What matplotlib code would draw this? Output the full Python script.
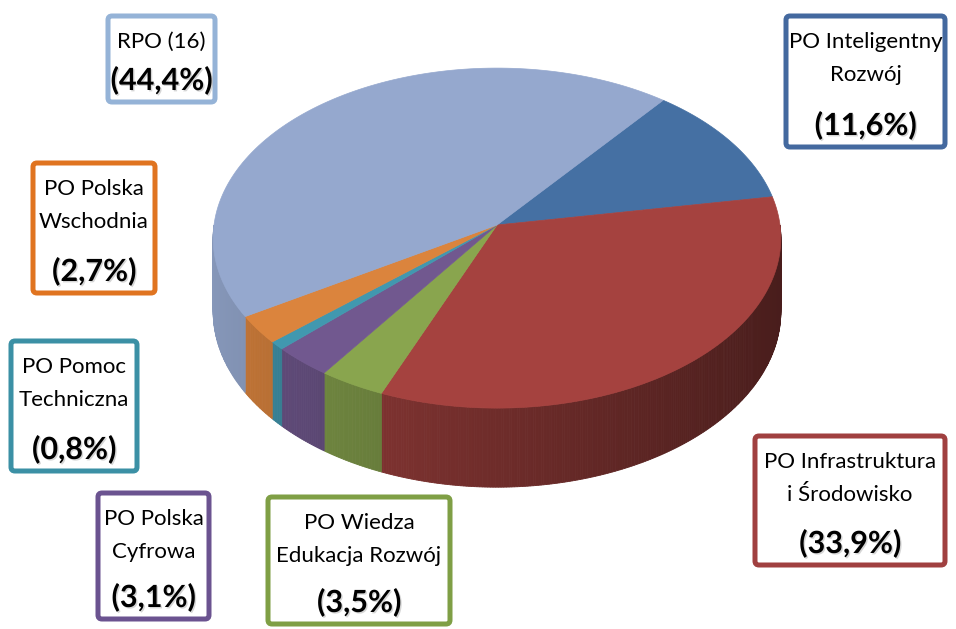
import numpy as np
import matplotlib
matplotlib.use("Agg")
import matplotlib.pyplot as plt
from matplotlib.patches import Polygon, FancyBboxPatch
import matplotlib.patheffects as pe

# data (clockwise from the top, as in the original)
names = ['PO Inteligentny\nRozwój', 'PO Infrastruktura\ni Środowisko',
         'PO Wiedza\nEdukacja Rozwój', 'PO Polska\nCyfrowa',
         'PO Pomoc\nTechniczna', 'PO Polska\nWschodnia', 'RPO (16)']
shares = [11.6, 33.9, 3.5, 3.1, 0.8, 2.7, 44.4]
colors = ['#4570A3', '#A5423F', '#89A54E', '#71588F', '#4198AF', '#DB843D', '#95A8CE']
border_colors = ['#44699F', '#A04040', '#7F9F45', '#6B5390', '#3B90A5', '#E07420', '#95B3D7']

# label boxes in pixel coordinates: x0, y0, x1, y1
boxes = [(783, 13, 948, 150), (752, 433, 948, 568), (265, 494, 453, 627),
         (95, 490, 212, 622), (8, 338, 140, 474), (30, 160, 158, 296),
         (105, 13, 218, 105)]

W, H = 956, 629
CX, CY = 497, 225          # apex of the pie
A, B, K = 283, 169, 0.077  # radii and perspective
TH = 73                    # thickness
START = 51.5               # angle of first boundary (deg)

plt.rcParams['font.family'] = ['Lato', 'DejaVu Sans']


def proj(theta, bottom=False):
    t = np.radians(theta)
    u, v = np.cos(t), np.sin(t)
    s = 1 + K * v
    x = CX + A * u / s
    y = CY - B * v / s
    if bottom:
        y = y + TH / s
    return x, y


def shade(c, f):
    rgb = np.array(matplotlib.colors.to_rgb(c))
    return tuple(rgb * f)


fig = plt.figure(figsize=(W / 100, H / 100), dpi=100)
ax = fig.add_axes([0, 0, 1, 1])
ax.set_xlim(0, W)
ax.set_ylim(H, 0)
ax.axis('off')

angles = START - np.concatenate([[0], np.cumsum(shares)]) * 3.6

# side walls (front half only)
for i, c in enumerate(colors):
    t0, t1 = angles[i + 1], angles[i]
    lo, hi = max(t0, -180), min(t1, 0)
    if lo >= hi:
        continue
    n = max(2, int((hi - lo) / 0.5) + 1)
    ts = np.linspace(lo, hi, n)
    for a0, a1 in zip(ts[:-1], ts[1:]):
        xa, ya = proj(a0)
        xb, yb = proj(a1)
        xc, yc = proj(a1, True)
        xd, yd = proj(a0, True)
        um = np.cos(np.radians((a0 + a1) / 2))
        col = shade(c, 0.67 - 0.23 * um)
        ax.add_patch(Polygon([(xa, ya), (xb, yb), (xc, yc), (xd, yd)],
                             closed=True, fc=col, ec=col, lw=0.6))

# top faces
for i, c in enumerate(colors):
    ts = np.linspace(angles[i], angles[i + 1], 120)
    xs, ys = proj(ts)
    pts = [(CX, CY)] + list(zip(xs, ys))
    ax.add_patch(Polygon(pts, closed=True, fc=c, ec=c, lw=0.5))

# labels
for name, val, bc, (x0, y0, x1, y1) in zip(names, shares, border_colors, boxes):
    ax.add_patch(FancyBboxPatch((x0 + 3, y0 + 3), x1 - x0 - 6, y1 - y0 - 6,
                                boxstyle='round,pad=0,rounding_size=4',
                                fc='white', ec=bc, lw=3.6, zorder=3))
    xm = (x0 + x1) / 2
    pct = '(' + f'{val:.1f}'.replace('.', ',') + '%)'
    ax.text(xm, y1 - 10, pct, ha='center', va='bottom', fontsize=22,
            fontweight='bold', color='black', zorder=4,
            path_effects=[pe.withSimplePatchShadow(offset=(1, -1),
                                                   shadow_rgbFace='#999999', alpha=0.4)])
    ax.text(xm, y0 + 19, name, ha='center', va='top', fontsize=16,
            color='black', linespacing=1.8, zorder=4)

fig.savefig('out.png', dpi=100)
